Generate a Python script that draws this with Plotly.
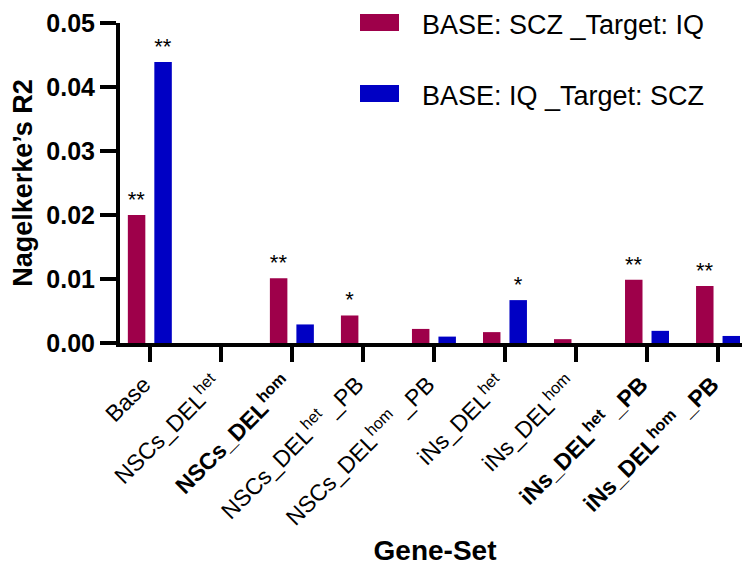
import plotly.graph_objects as go

categories = [
    "Base",
    "NSCs_DEL<sup>het</sup>",
    "<b>NSCs_DEL<sup>hom</sup></b>",
    "NSCs_DEL<sup>het</sup> _PB",
    "NSCs_DEL<sup>hom</sup> _PB",
    "iNs_DEL<sup>het</sup>",
    "iNs_DEL<sup>hom</sup>",
    "<b>iNs_DEL<sup>het</sup> _PB</b>",
    "<b>iNs_DEL<sup>hom</sup> _PB</b>",
]
scz_to_iq = [0.0200, 0.0, 0.0101, 0.0043, 0.0022, 0.0017, 0.0006, 0.0099, 0.0089]
iq_to_scz = [0.0439, 0.0, 0.0029, 0.0, 0.0010, 0.0067, 0.0, 0.0019, 0.0011]
sig_scz_to_iq = ["**", "", "**", "*", "", "", "", "**", "**"]
sig_iq_to_scz = ["**", "", "", "", "", "*", "", "", ""]
series_names = ["BASE: SCZ _Target: IQ", "BASE: IQ _Target: SCZ"]
series_colors = ["#9E004A", "#0000C4"]
y_ticks = [0.00, 0.01, 0.02, 0.03, 0.04, 0.05]

FONT = "Liberation Sans, Arial, Helvetica, sans-serif"
x_idx = list(range(len(categories)))

# figure geometry (page is offset by the 8px body margin)
W, H = 742, 569
L, T, B = 112, 15, 234
PW, PH = W - L, H - T - B
PB_Y = H - B  # plot bottom in figure px


def px(x):
    return (x - L) / PW


def py(y):
    return (PB_Y - y) / PH


fig = go.Figure()
for vals, sig, name, col in zip([scz_to_iq, iq_to_scz], [sig_scz_to_iq, sig_iq_to_scz],
                                series_names, series_colors):
    fig.add_trace(go.Bar(
        x=x_idx, y=vals, name=name, marker=dict(color=col, line=dict(width=0)),
        text=sig, textposition="outside", constraintext="none", cliponaxis=False,
        textfont=dict(family=FONT, size=22, color="black"), showlegend=False,
    ))

# manual legend with large swatches, as in the original
txt_top = [0, 71]
sw_top = [6, 77]
for i, (name, col) in enumerate(zip(series_names, series_colors)):
    fig.add_shape(type="rect", xref="paper", yref="paper",
                  x0=px(352), x1=px(391), y0=py(sw_top[i] + 17), y1=py(sw_top[i]),
                  fillcolor=col, line=dict(width=0))
    fig.add_annotation(xref="paper", yref="paper", x=px(412), y=py(txt_top[i]),
                       text=name, showarrow=False, xanchor="left", yanchor="top",
                       font=dict(family=FONT, size=27, color="black"))

fig.update_layout(
    width=W, height=H,
    margin=dict(l=L, r=0, t=T, b=B),
    paper_bgcolor="white", plot_bgcolor="white",
    barmode="group", bargap=0.254, bargroupgap=0.34,
    font=dict(family=FONT, color="black"),
    showlegend=False,
)
fig.update_xaxes(
    tickmode="array", tickvals=x_idx, ticktext=categories, tickangle=-45,
    range=[-0.42, 8.45], showline=True, linewidth=4, linecolor="black",
    ticks="outside", ticklen=15, tickwidth=4, tickcolor="black",
    ticklabelshift=-6,
    tickfont=dict(family=FONT, size=23, color="black"), showgrid=False, zeroline=False,
    title=dict(text="<b>Gene-Set</b>", font=dict(family=FONT, size=28, color="black"), standoff=12),
    automargin=False,
)
fig.update_yaxes(
    range=[0, 0.05], tickvals=y_ticks, tickformat=".2f",
    showline=True, linewidth=4, linecolor="black",
    ticks="outside", ticklen=16, tickwidth=4, tickcolor="black",
    tickfont=dict(family=FONT, size=25, color="black", weight="bold"), showgrid=False, zeroline=False,
    title=dict(text="<b>Nagelkerke’s R2</b>", font=dict(family=FONT, size=27, color="black"), standoff=12),
    automargin=False,
)
fig.write_html("out.html")
